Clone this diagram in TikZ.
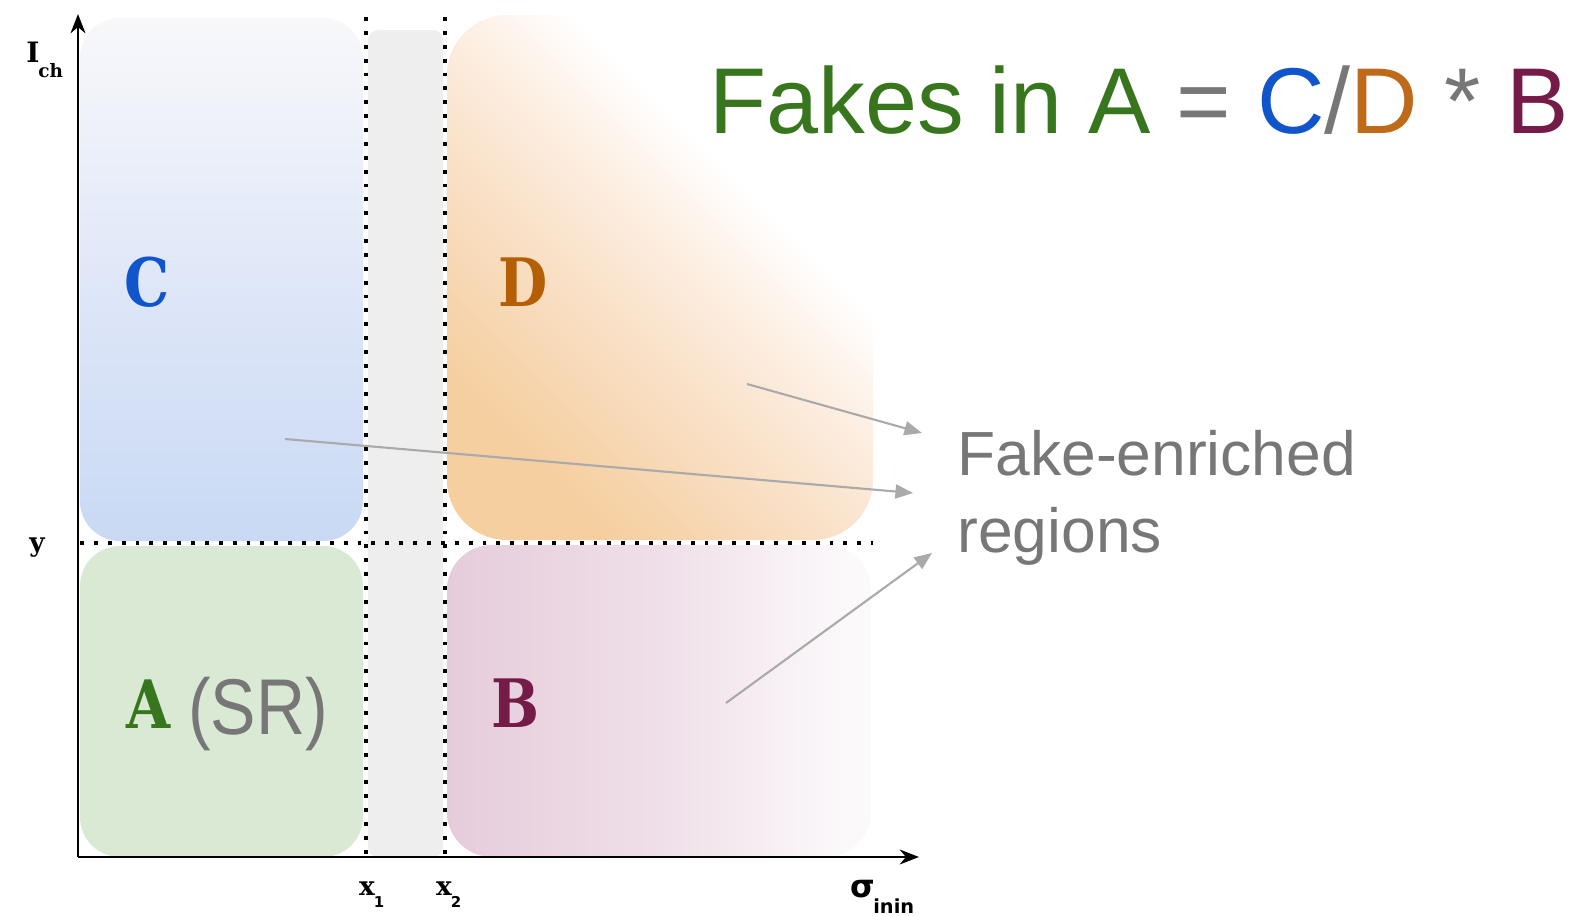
\documentclass[tikz,border=0pt]{standalone}
\usepackage{fontspec}
\usepackage{graphicx}
\setmainfont{Liberation Sans}
\newfontfamily\slab{DejaVu Serif}
\newfontfamily\dsans{DejaVu Sans}
\usetikzlibrary{arrows.meta}
\definecolor{cblue}{HTML}{1155CC}
\definecolor{dorange}{HTML}{B45F06}
\definecolor{eqorange}{HTML}{BF6A1B}
\definecolor{agreen}{HTML}{38761D}
\definecolor{bmaroon}{HTML}{741B47}
\definecolor{txtgrey}{HTML}{777777}
\definecolor{arrgrey}{HTML}{AAAAAA}
\definecolor{colgrey}{HTML}{EEEEEE}
\definecolor{afill}{HTML}{D9E9D4}
\definecolor{ctop}{HTML}{F8F8FA}
\definecolor{cmid}{HTML}{DFE7F8}
\definecolor{cbot}{HTML}{C9D9F4}
\definecolor{d0}{HTML}{F5CFA0}
\definecolor{d1}{HTML}{F8DCBD}
\definecolor{d2}{HTML}{FBE8D5}
\definecolor{d3}{HTML}{FDF4EC}
\definecolor{b0}{HTML}{E6CCDB}
\definecolor{b1}{HTML}{EFDFE8}
\definecolor{bw}{HTML}{FCF9FB}
\pgfdeclareverticalshading{cshade}{100bp}{color(0bp)=(cbot); color(25bp)=(cbot); color(50bp)=(cmid); color(75bp)=(ctop); color(100bp)=(ctop)}
\pgfdeclarehorizontalshading{dshade}{100bp}{color(0bp)=(d0); color(27bp)=(d0); color(39bp)=(d1); color(49bp)=(d2); color(57bp)=(d3); color(63bp)=(white); color(100bp)=(white)}
\pgfdeclarehorizontalshading{bshade}{100bp}{color(0bp)=(b0); color(25bp)=(b0); color(50bp)=(b1); color(72bp)=(bw); color(100bp)=(bw)}
\tikzset{
  dotline/.style={line width=2.2pt, dash pattern=on 2.2pt off 5.7pt},
  axisline/.style={line width=1.1pt, -{Stealth[length=11pt,width=8.5pt]}},
  pointer/.style={draw=arrgrey, line width=1.2pt, -{Triangle[length=10pt,width=8pt]}},
  reglabel/.style={font=\slab\bfseries\fontsize{38}{40}\selectfont, inner sep=0pt, anchor=base},
  axlabel/.style={font=\slab\bfseries\fontsize{15}{16}\selectfont, inner sep=0pt, anchor=base},
  sublabel/.style={font=\dsans\bfseries\fontsize{8.5}{9}\selectfont, inner sep=0pt, anchor=base},
}
\begin{document}
\begin{tikzpicture}[x=0.02cm, y=-0.02cm]
\useasboundingbox (0,0) rectangle (1569,916);
% regions
\shade[shading=cshade, rounded corners=0.8cm] (80,18) rectangle (363,541);
\fill[afill, rounded corners=0.8cm] (80,546) rectangle (363,857);
\shade[shading=dshade, shading angle=45, rounded corners=1.2cm] (447,15) rectangle (873,540);
\shade[shading=bshade, rounded corners=0.9cm] (447,545) rectangle (871,857);
\fill[colgrey, rounded corners=0.2cm] (368,30) rectangle (443,857);
% dotted lines
\coordinate (vx1top) at (366,17); \coordinate (vx1bot) at (366,857);
\coordinate (vx2top) at (445,17); \coordinate (vx2bot) at (445,857);
\coordinate (hyl) at (80,543); \coordinate (hyr) at (873,543);
\draw[dotline] (vx1top) -- (vx1bot);
\draw[dotline] (vx2top) -- (vx2bot);
\draw[dotline] (hyl) -- (hyr);
% axes
\coordinate (origin) at (78,857);
\coordinate (ytip) at (78,14);
\coordinate (xtip) at (919,857);
\draw[axisline] (origin) -- (ytip);
\draw[axisline] (origin) -- (xtip);
% pointers
\coordinate (dsrc) at (747,384); \coordinate (dtip) at (922,433);
\coordinate (csrc) at (285,439); \coordinate (ctip) at (913,493);
\coordinate (bsrc) at (726,703); \coordinate (btip) at (932,553);
\draw[pointer] (dsrc) -- (dtip);
\draw[pointer] (csrc) -- (ctip);
\draw[pointer] (bsrc) -- (btip);
% region labels
\node[reglabel, text=cblue] (labC) at (147,306) {\scalebox{0.85}[1]{C}};
\node[reglabel, text=dorange] (labD) at (523,306) {\scalebox{0.85}[1]{D}};
\node[reglabel, text=agreen] (labA) at (149,728) {\scalebox{0.85}[1]{A}};
\node[reglabel, text=bmaroon] (labB) at (515,727) {\scalebox{0.85}[1]{B}};
\node[inner sep=0pt, anchor=base west, text=txtgrey, font=\fontsize{45}{50}\selectfont] (labSR) at (188,734) {\scalebox{0.86}[1]{(SR)}};
% axis labels
\node[axlabel, font=\slab\bfseries\fontsize{16}{17}\selectfont] (lI) at (33,62) {I};
\node[inner sep=0pt, anchor=base west, font=\slab\bfseries\fontsize{10.5}{11}\selectfont] (lch) at (38,77) {ch};
\node[axlabel] (ly) at (37,551) {y};
\node[axlabel] (lx1) at (367,895) {x};
\node[sublabel] (lx1s) at (379,907) {1};
\node[axlabel] (lx2) at (444,895) {x};
\node[sublabel] (lx2s) at (456,907) {2};
\node[inner sep=0pt, anchor=base, font=\dsans\bfseries\fontsize{18}{19}\selectfont] (lsig) at (863,897) {σ};
\node[inner sep=0pt, anchor=base west, font=\dsans\bfseries\fontsize{11}{12}\selectfont] (linin) at (873,913) {inin};
% texts
\node[inner sep=0pt, anchor=base west, font=\fontsize{53.2}{56}\selectfont] (eq) at (709,133)
  {\textcolor{agreen}{Fakes in A} \textcolor{txtgrey}{=} \textcolor{cblue}{C}\textcolor{txtgrey}{/}\textcolor{eqorange}{D} \textcolor{txtgrey}{*} \textcolor{bmaroon}{B}};
\node[inner sep=0pt, anchor=base west, align=left, text=txtgrey, font=\fontsize{35.5}{43.6}\selectfont] (fer) at (957,552)
  {Fake-enriched\\regions};
\end{tikzpicture}
\end{document}
